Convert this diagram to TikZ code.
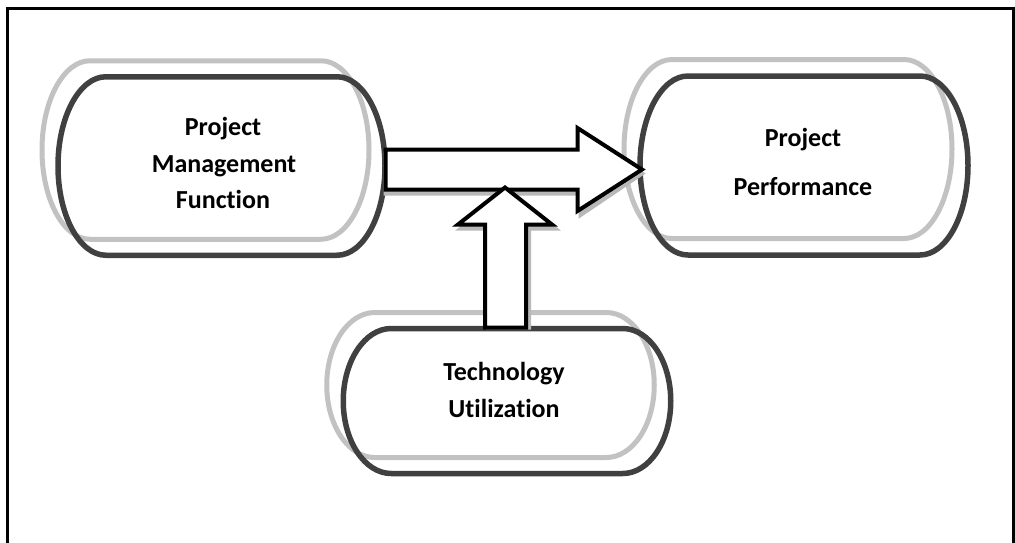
\documentclass[tikz,border=0pt]{standalone}
\usepackage{fontspec}
\setmainfont{Carlito}[Ligatures=NoCommon]
\usetikzlibrary{calc}
\definecolor{boxdark}{HTML}{404040}
\definecolor{shadegray}{HTML}{C2C2C2}
\definecolor{arrowshade}{HTML}{B8B8B8}
\newcommand\rxx{48pt}
\newcommand\termbox[4]{%
  \draw[#2] let \p1=(#1.north west), \p2=(#1.south east) in
    (\x1+\rxx+#3,\y1+#4) -- (\x2-\rxx+#3,\y1+#4)
    arc[start angle=90,end angle=-90,x radius=\rxx,y radius={(\y1-\y2)/2}]
    -- (\x1+\rxx+#3,\y2+#4)
    arc[start angle=270,end angle=90,x radius=\rxx,y radius={(\y1-\y2)/2}]
    -- cycle;}
\tikzset{
  boxnode/.style={draw=none,inner sep=0pt,outer sep=0pt,minimum width=#1},
  darkline/.style={draw=boxdark,line width=5.5pt,line join=round},
  grayline/.style={draw=shadegray,line width=5pt,line join=round},
  lbl/.style={anchor=base,inner sep=0pt,font=\fontsize{26}{30}\selectfont\bfseries},
  blockarrow/.style={draw=black,fill=white,line width=4pt,line join=miter},
  arrowshadow/.style={draw=arrowshade,fill=arrowshade,line width=4pt,shift={(3pt,-4pt)}}
}
\begin{document}
\begin{tikzpicture}[x=1pt,y=1pt]
\useasboundingbox (0,0) rectangle (1015,-542);
% frame
\draw[line width=3pt,line join=miter] (7.5,-545) -- (7.5,-8.3) -- (1013.5,-8.3) -- (1013.5,-545);
% box nodes
\node[boxnode=327pt,minimum height=178.5pt] (pm) at (221.5,-166) {};
\node[boxnode=328pt,minimum height=179pt] (pp) at (804,-165.5) {};
\node[boxnode=327.5pt,minimum height=145pt] (tu) at (507,-401) {};
% shadows of boxes
\termbox{pm}{grayline}{-16pt}{16pt}
\termbox{pp}{grayline}{-16pt}{16.5pt}
\termbox{tu}{grayline}{-16.5pt}{16pt}
% boxes
\termbox{pm}{darkline}{0pt}{0pt}
\termbox{pp}{darkline}{0pt}{0pt}
\termbox{tu}{darkline}{0pt}{0pt}
% labels
\node[lbl] (pm1) at (223,-135) {Project};
\node[lbl] (pm2) at (224,-172) {Management};
\node[lbl] (pm3) at (223,-208) {Function};
\node[lbl] (pp1) at (803,-146) {Project};
\node[lbl] (pp2) at (803,-195) {Performance};
\node[lbl] (tu1) at (504,-380) {Technology};
\node[lbl] (tu2) at (504,-417) {Utilization};
% horizontal block arrow (pm -> pp)
\foreach \sty in {arrowshadow,blockarrow}{
  \path[\sty] let \p1=(pm.east), \p2=(pp.west) in
    (\x1+0.5pt,-149.5) -- (577.5,-149.5) -- (577.5,-128) -- (\x2+2pt,-169.5)
    -- (577.5,-211) -- (577.5,-189.5) -- (\x1+0.5pt,-189.5) -- cycle;
}
% vertical block arrow (tu -> horizontal arrow)
\foreach \sty in {arrowshadow,blockarrow}{
  \path[\sty] let \p1=(tu.north) in
    (485,\y1+1pt) -- (485,-224.5) -- (458,-224.5) -- (505,-187.5)
    -- (552,-224.5) -- (526,-224.5) -- (526,\y1+1pt) -- cycle;
}
\end{tikzpicture}
\end{document}
